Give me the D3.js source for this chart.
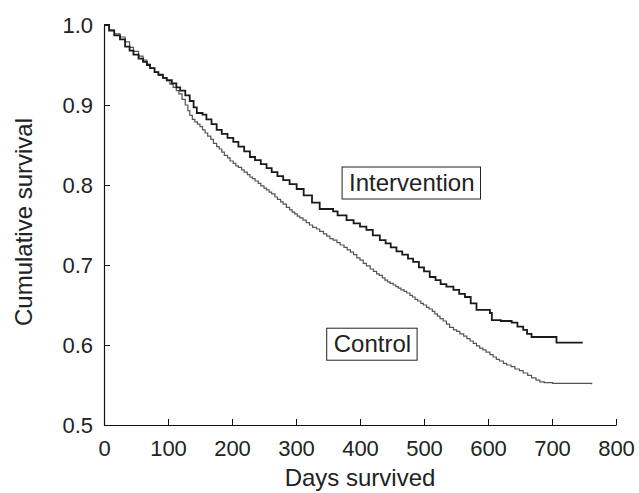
<!DOCTYPE html>
<html>
<head>
<meta charset="utf-8">
<script src="https://cdn.jsdelivr.net/npm/d3@7"></script>
<style>
  body { margin: 0; background: #fff; }
  text { font-family: "Liberation Sans", Arial, sans-serif; fill: #222; }
</style>
</head>
<body>
<svg id="chart" width="639" height="493"></svg>
<script>
// Intervention group - days and cumulative survival
const intDays = [0,8,16,25,33,40,46,54,61,67,72,79,85,92,98,106,113,119,127,134,140,145,154,160,168,176,184,193,202,210,219,228,236,245,254,262,271,280,290,301,312,325,337,358,365,379,390,400,410,420,431,440,448,457,466,475,483,492,500,509,518,526,535,546,555,564,573,582,603,606,620,637,646,655,661,668,705,707,748];
const intSurv = [1.000,0.993,0.987,0.982,0.973,0.968,0.963,0.958,0.954,0.950,0.946,0.941,0.938,0.934,0.931,0.927,0.922,0.918,0.912,0.905,0.897,0.890,0.888,0.882,0.876,0.869,0.864,0.859,0.854,0.848,0.842,0.835,0.831,0.826,0.821,0.816,0.811,0.806,0.801,0.795,0.787,0.778,0.770,0.767,0.762,0.756,0.752,0.748,0.744,0.737,0.731,0.727,0.722,0.717,0.713,0.708,0.704,0.697,0.692,0.685,0.681,0.676,0.673,0.669,0.664,0.660,0.652,0.644,0.640,0.631,0.630,0.628,0.623,0.619,0.614,0.610,0.610,0.603,0.603];

// Control group
const ctlDays = [0,8,16,25,33,40,46,54,61,67,72,79,85,92,98,103,108,113,117,122,127,131,134,138,142,146,150,154,158,162,167,171,176,180,184,188,193,197,202,206,210,215,219,224,228,232,236,241,245,250,254,258,262,267,271,276,280,285,290,294,298,302,306,311,316,321,326,332,337,343,348,353,358,364,369,375,380,385,390,395,400,405,410,416,421,426,430,435,439,443,447,452,456,460,464,469,473,478,482,486,490,495,499,504,508,513,517,521,525,530,535,540,546,551,556,562,567,572,577,582,587,592,597,603,608,613,618,624,629,636,642,649,655,662,668,675,681,688,695,701,707,762];
const ctlSurv = [1.000,0.994,0.989,0.985,0.979,0.972,0.967,0.961,0.956,0.951,0.946,0.941,0.937,0.934,0.930,0.926,0.922,0.918,0.914,0.907,0.900,0.893,0.887,0.882,0.879,0.876,0.873,0.869,0.865,0.861,0.857,0.852,0.848,0.845,0.841,0.837,0.834,0.830,0.827,0.824,0.822,0.819,0.816,0.813,0.810,0.808,0.805,0.802,0.799,0.796,0.794,0.791,0.789,0.785,0.782,0.779,0.776,0.772,0.769,0.766,0.764,0.761,0.759,0.756,0.753,0.750,0.747,0.745,0.742,0.739,0.736,0.733,0.731,0.728,0.725,0.722,0.719,0.716,0.713,0.709,0.706,0.702,0.699,0.695,0.692,0.689,0.687,0.684,0.681,0.679,0.677,0.675,0.673,0.671,0.669,0.667,0.665,0.662,0.660,0.657,0.655,0.652,0.650,0.647,0.645,0.642,0.639,0.636,0.633,0.630,0.626,0.622,0.619,0.617,0.614,0.611,0.608,0.605,0.602,0.599,0.596,0.594,0.591,0.588,0.585,0.582,0.580,0.577,0.575,0.573,0.570,0.568,0.565,0.562,0.559,0.556,0.554,0.553,0.553,0.552,0.552,0.551];

const xTicks = [0,100,200,300,400,500,600,700,800];
const yTicks = [0.5,0.6,0.7,0.8,0.9,1.0];

// label names and where the box top-left sits (days, survival)
const labelNames = ['Intervention', 'Control'];
const labelDays = [372, 348];
const labelSurv = [0.8225, 0.621];

const svg = d3.select('#chart');
const margin = {top: 25, left: 104};
const innerW = 512, innerH = 400;

const g = svg.append('g')
    .attr('transform', `translate(${margin.left},${margin.top})`);

const xScale = d3.scaleLinear().domain([0, 800]).range([0, innerW]);
const yScale = d3.scaleLinear().domain([0.5, 1.0]).range([innerH, 0]);

//X axis, ticks pointing inward
const xAxis = g.append('g')
    .attr('transform', `translate(0,${innerH})`)
    .call(d3.axisBottom(xScale).tickValues(xTicks).tickSizeInner(-6).tickSizeOuter(0).tickPadding(15));
//Y axis
const yAxis = g.append('g')
    .call(d3.axisLeft(yScale).tickValues(yTicks).tickFormat(d3.format('.1f')).tickSizeInner(-6).tickSizeOuter(0).tickPadding(11));

[xAxis, yAxis].forEach(a => {
    a.select('.domain').attr('stroke', '#111').attr('stroke-width', 1.2);
    a.selectAll('.tick line').attr('stroke', '#111');
    a.selectAll('.tick text').style('font-size', '22px').attr('fill', '#222')
        .style('font-family', '"Liberation Sans", Arial, sans-serif');
});

//Axis titles
svg.append('text')
    .attr('x', margin.left + innerW / 2)
    .attr('y', 486)
    .attr('text-anchor', 'middle')
    .style('font-size', '24px')
    .text('Days survived');

svg.append('text')
    .attr('transform', `translate(32,${margin.top + innerH / 2 - 3}) rotate(-90)`)
    .attr('text-anchor', 'middle')
    .style('font-size', '24px')
    .text('Cumulative survival');

//Survival curves
const line = d3.line()
    .x(d => xScale(d[0]))
    .y(d => yScale(d[1]))
    .curve(d3.curveStepAfter);

g.append('path')
    .datum(d3.zip(ctlDays, ctlSurv))
    .attr('d', line)
    .attr('fill', 'none')
    .attr('stroke', '#555')
    .attr('stroke-width', 1.2);

g.append('path')
    .datum(d3.zip(intDays, intSurv))
    .attr('d', line)
    .attr('fill', 'none')
    .attr('stroke', '#1a1a1a')
    .attr('stroke-width', 1.8);

//Boxed labels
for (let i = 0; i < labelNames.length; i++) {
    const bx = xScale(labelDays[i]);
    const by = yScale(labelSurv[i]);
    const lg = g.append('g');
    const box = lg.append('rect')
        .attr('x', bx)
        .attr('y', by)
        .attr('height', 32)
        .attr('fill', 'none')
        .attr('stroke', '#222')
        .attr('stroke-width', 1);
    const t = lg.append('text')
        .attr('x', bx + 7)
        .attr('y', by + 24)
        .style('font-size', '24px')
        .text(labelNames[i]);
    box.attr('width', t.node().getBBox().width + 13);
}
</script>
</body>
</html>
